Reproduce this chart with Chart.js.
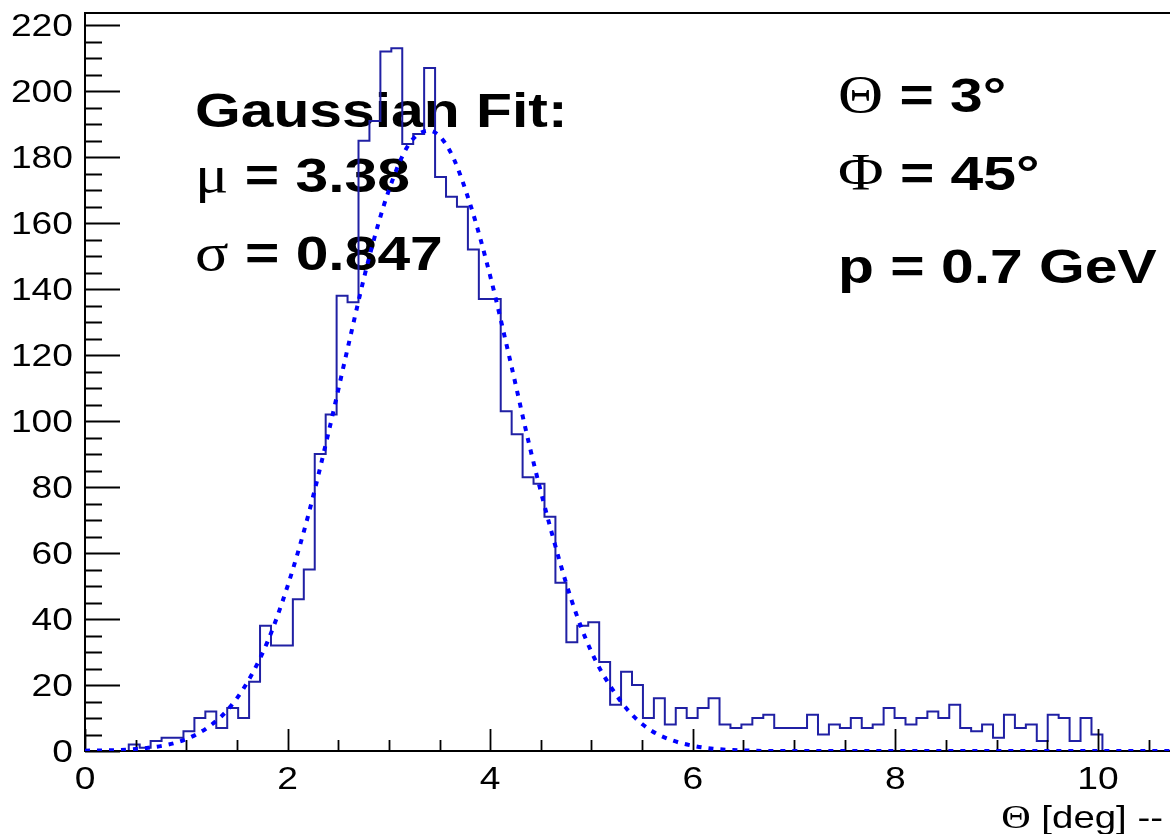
<!DOCTYPE html>
<html>
<head>
<meta charset="utf-8">
<script src="https://cdn.jsdelivr.net/npm/chart.js@4.4.1/dist/chart.umd.min.js"></script>
<style>
  html, body { margin: 0; padding: 0; background: #fff; overflow: hidden; width: 1170px; height: 834px; }
  canvas { display: block; }
</style>
</head>
<body>
<canvas id="hist" width="1182" height="834"></canvas>
<script>
// histogram: 100 bins from 0 to 10.8 deg
const binWidth = 0.108;
const counts = [
  0, 0, 0, 0, 2, 1, 3, 4, 4, 6,
  10, 12, 7, 13, 10, 21, 38, 32, 32, 46,
  55, 90, 102, 138, 136, 185, 191, 212, 213, 184,
  187, 207, 174, 168, 165, 152, 137, 137, 103, 96,
  83, 81, 71, 51, 33, 38, 39, 27, 14, 24,
  20, 10, 16, 8, 13, 10, 13, 16, 8, 7,
  8, 10, 11, 7, 7, 7, 11, 5, 8, 7,
  10, 7, 8, 13, 10, 8, 10, 12, 10, 14,
  7, 6, 8, 4, 11, 7, 8, 3, 11, 10,
  3, 10, 5, 0, 0, 0, 0, 0, 0, 0
];

// gaussian fit curve
const fitX = [0, 0.4, 0.8, 1.0, 1.2, 1.4, 1.6, 1.8, 2.0, 2.2, 2.4, 2.6, 2.8, 3.0, 3.2, 3.4,
  3.6, 3.8, 4.0, 4.2, 4.4, 4.6, 4.8, 5.0, 5.2, 5.4, 5.6, 5.8, 6.0, 6.2, 6.4, 6.8, 7.5, 8.5, 9.5, 10.8];
const fitY = [0.1, 0.4, 1.8, 3.6, 6.9, 12.2, 20.7, 33, 50, 71, 96, 123, 149, 170, 184, 188,
  182, 166, 144, 118, 91, 67, 46, 30, 19, 11, 6, 3.2, 1.6, 0.7, 0.3, 0, 0, 0, 0, 0];

const yTickValues = [0, 20, 40, 60, 80, 100, 120, 140, 160, 180, 200, 220];
const xTickValues = [0, 2, 4, 6, 8, 10];

const SX = 1.2; // text in the picture is stretched sideways
const BOLD = 'bold 49px "Liberation Sans"';
const SYM = '52px "Liberation Serif"';
const TICKFONT = '31px "Liberation Sans"';
const TITLEFONT = '32px "Liberation Sans"';

function stretchText(ctx, parts, x, y, align) {
  ctx.save();
  let w = 0;
  parts.forEach(p => { ctx.font = p.font; w += ctx.measureText(p.text).width; });
  ctx.translate(x, y);
  ctx.scale(SX, 1);
  let cx = align === 'right' ? -w : align === 'center' ? -w / 2 : 0;
  ctx.textAlign = 'left';
  ctx.textBaseline = 'alphabetic';
  ctx.fillStyle = '#000';
  parts.forEach(p => {
    ctx.font = p.font;
    ctx.fillText(p.text, cx, 0);
    cx += ctx.measureText(p.text).width;
  });
  ctx.restore();
}

const frame = {
  id: 'frame',
  beforeDatasetsDraw(chart) {
    const ctx = chart.ctx;
    stretchText(ctx, [{ text: 'Gaussian Fit:', font: BOLD }], 195, 127);
    stretchText(ctx, [{ text: 'μ', font: SYM }, { text: ' = 3.38', font: BOLD }], 195, 192);
    stretchText(ctx, [{ text: 'σ', font: SYM }, { text: ' = 0.847', font: BOLD }], 195, 270);
    stretchText(ctx, [{ text: 'Θ', font: SYM }, { text: ' = 3°', font: BOLD }], 838, 112);
    stretchText(ctx, [{ text: 'Φ', font: SYM }, { text: ' = 45°', font: BOLD }], 838, 190);
    stretchText(ctx, [{ text: 'p = 0.7 GeV', font: BOLD }], 838, 283);
  },
  afterDatasetDraw(chart, args) {
    if (args.index !== 1) return;
    const ctx = chart.ctx;
    const a = chart.chartArea;
    const xs = chart.scales.x, ys = chart.scales.y;
    ctx.save();
    ctx.strokeStyle = '#000';
    ctx.lineWidth = 2;
    ctx.strokeRect(a.left, a.top, a.right - a.left, a.bottom - a.top);
    ctx.lineWidth = 1.8;
    ctx.beginPath();
    for (let v = 0; v <= 220; v += 5) {
      const y = Math.round(ys.getPixelForValue(v)) + 0.5;
      const len = v % 20 === 0 ? 35 : 17;
      ctx.moveTo(a.left, y);
      ctx.lineTo(a.left + len, y);
    }
    for (let v = 0; v <= 10.5; v += 0.5) {
      const x = Math.round(xs.getPixelForValue(v)) + 0.5;
      const len = v % 2 === 0 ? 22 : 11;
      ctx.moveTo(x, a.bottom);
      ctx.lineTo(x, a.bottom - len);
    }
    ctx.stroke();
    ctx.restore();

    yTickValues.forEach(v => {
      stretchText(ctx, [{ text: String(v), font: TICKFONT }], 73, ys.getPixelForValue(v) + 11, 'right');
    });
    xTickValues.forEach(v => {
      stretchText(ctx, [{ text: String(v), font: TICKFONT }], xs.getPixelForValue(v), 789, 'center');
    });
    stretchText(ctx, [{ text: 'Θ', font: '34px "Liberation Serif"' }, { text: ' [deg] --', font: TITLEFONT }], 1163, 828, 'right');
  }
};

const histPoints = counts.map((c, i) => ({ x: i * binWidth, y: c }));
histPoints.push({ x: counts.length * binWidth, y: 0 });

new Chart(document.getElementById('hist'), {
  type: 'line',
  data: {
    datasets: [
      {
        label: 'fit',
        data: fitX.map((x, i) => ({ x: x, y: fitY[i] })),
        borderColor: '#0000ff',
        borderWidth: 4,
        borderDash: [5, 7],
        pointRadius: 0,
        cubicInterpolationMode: 'monotone',
        fill: false
      },
      {
        label: 'hist',
        data: histPoints,
        stepped: 'before',
        borderColor: '#2020a4',
        borderWidth: 2,
        pointRadius: 0,
        fill: false
      }
    ]
  },
  options: {
    responsive: false,
    animation: false,
    layout: { padding: { left: 85, top: 13, right: 3, bottom: 83 } },
    plugins: { legend: { display: false }, tooltip: { enabled: false } },
    scales: {
      x: { type: 'linear', min: 0, max: 10.8, display: false },
      y: { type: 'linear', min: 0, max: 223.7, display: false }
    }
  },
  plugins: [frame]
});
</script>
</body>
</html>
